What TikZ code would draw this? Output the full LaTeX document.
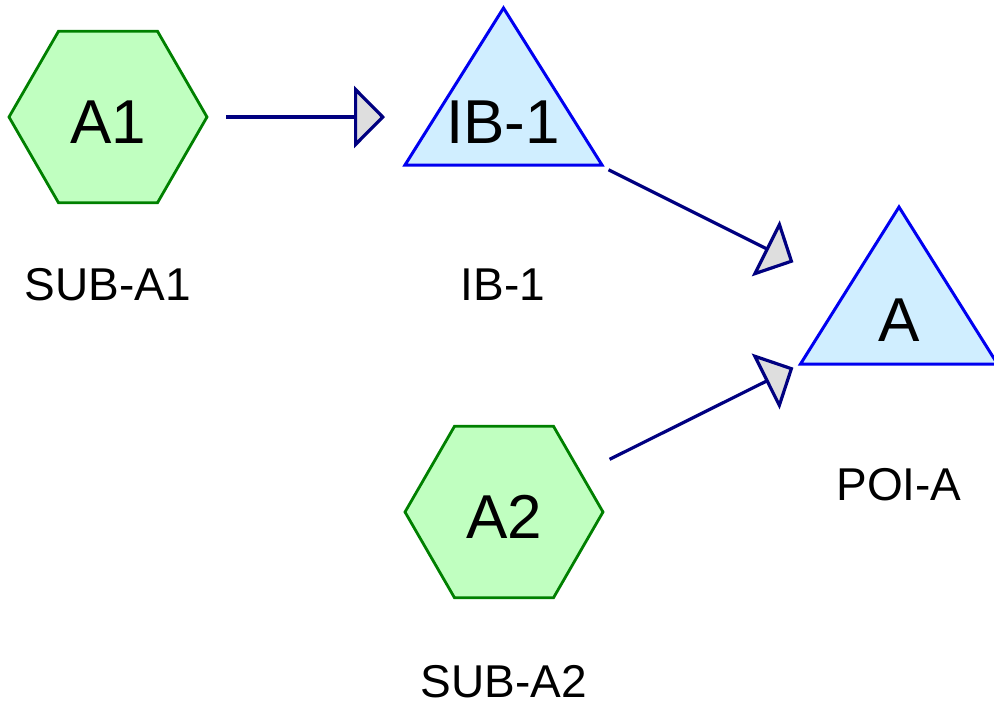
\documentclass[tikz,border=0pt]{standalone}
\usepackage{fontspec}
\setmainfont{Liberation Sans}
\usetikzlibrary{shapes.geometric,arrows.meta}
\definecolor{hexFill}{RGB}{192,255,192}
\definecolor{hexLine}{RGB}{0,128,0}
\definecolor{triFill}{RGB}{208,238,255}
\definecolor{triLine}{RGB}{0,0,240}
\definecolor{linkLine}{RGB}{0,0,128}
\definecolor{tipFill}{RGB}{222,222,222}
\begin{document}
\begin{tikzpicture}[
    x=1pt, y=-1pt,
    shapeText/.style={text height=58pt, text depth=6pt, font=\fontsize{62}{62}\selectfont},
    subHex/.style={regular polygon, regular polygon sides=6, minimum size=198pt, inner sep=0pt,
        draw=hexLine, fill=hexFill, line width=2.8pt, shapeText},
    poiTri/.style={isosceles triangle, isosceles triangle stretches, shape border rotate=90,
        minimum width=197pt, minimum height=157pt, inner sep=0pt, outer sep=0pt,
        draw=triLine, fill=triFill, line width=3pt},
    triText/.style={inner sep=0pt, shapeText},
    lblText/.style={anchor=base, inner sep=0pt, font=\fontsize{46}{46}\selectfont},
    linkArrow/.style={draw=linkLine, line width=3.2pt, -{Triangle[length=31pt, width=62pt, fill=tipFill]},
        shorten <=118pt, shorten >=118pt}
]
\useasboundingbox (0,0) rectangle (994,705);
% shapes
\node[subHex] (a1) at (108,117) {A1};
\node[subHex] (a2) at (504,512) {A2};
\node[poiTri, anchor=apex] (ibShape) at (503.5,8) {};
\node[triText] (ib) at (503,117) {IB-1};
\node[poiTri, anchor=apex] (poiShape) at (899,207) {};
\node[triText] (poi) at (899,315) {A};
% labels
\node[lblText] (a1lbl) at (108,300) {SUB-A1};
\node[lblText] (iblbl) at (503,300) {IB-1};
\node[lblText] (poilbl) at (899,500) {POI-A};
\node[lblText] (a2lbl) at (504,697) {SUB-A2};
% links
\draw[linkArrow] (a1.center) -- (ib.center);
\draw[linkArrow] (ib.center) -- (poi.center);
\draw[linkArrow] (a2.center) -- (poi.center);
\end{tikzpicture}
\end{document}
